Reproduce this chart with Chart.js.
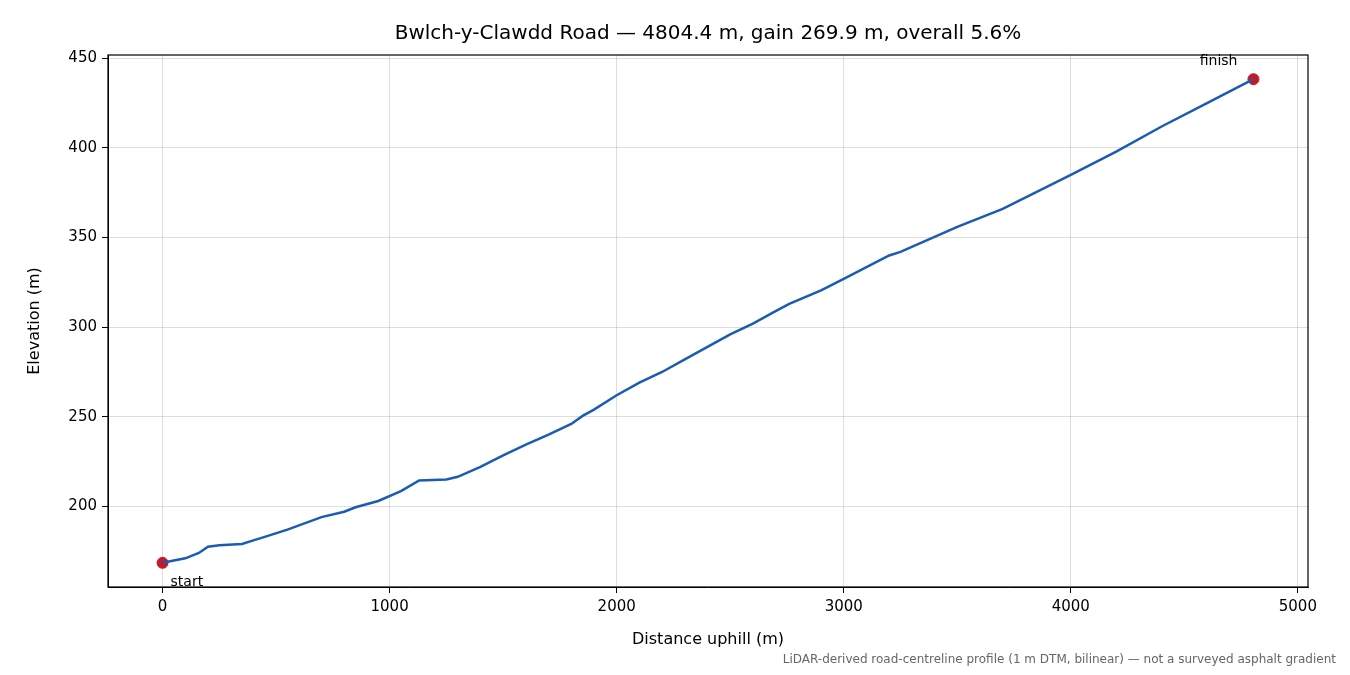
<!DOCTYPE html>
<html>
<head>
<meta charset="utf-8">
<script src="https://cdn.jsdelivr.net/npm/chart.js@4"></script>
<style>
  html, body { margin: 0; padding: 0; background: #fff; }
  #wrap { width: 1350px; height: 675px; }
</style>
</head>
<body>
<div id="wrap"><canvas id="chart" width="1350" height="675"></canvas></div>
<script>
const distance = [0, 100, 160, 200, 250, 350, 400, 450, 550, 700, 800, 850, 950, 1050, 1130, 1250, 1300,
  1400, 1500, 1600, 1700, 1800, 1850, 1900, 2000, 2100, 2200, 2300, 2400, 2500, 2600, 2700, 2760,
  2900, 3000, 3200, 3250, 3500, 3700, 4000, 4200, 4400, 4600, 4804.4];
const elevation = [168.5, 171, 174, 177.5, 178.3, 179, 181, 183, 187, 194, 197, 199.5, 203, 208.5, 214.5, 215, 216.5,
  222, 228.5, 234.5, 240, 246, 250.5, 254, 262, 269, 275, 282, 289, 296, 302, 309, 313,
  320.5, 327, 340, 342, 356, 366, 385, 398, 412, 425, 438.4];
const xTicks = [0, 1000, 2000, 3000, 4000, 5000];
const yTicks = [200, 250, 300, 350, 400, 450];
const endpoints = [
  { x: distance[0], y: elevation[0], label: "start" },
  { x: distance[distance.length - 1], y: elevation[elevation.length - 1], label: "finish" }
];

const font = "DejaVu Sans";

const extras = {
  id: "extras",
  afterDraw(chart) {
    const { ctx, chartArea: a, scales } = chart;
    ctx.save();
    ctx.strokeStyle = "#000";
    ctx.lineWidth = 1.2;
    ctx.strokeRect(a.left, a.top, a.right - a.left, a.bottom - a.top);
    ctx.fillStyle = "#000";
    ctx.font = "20px " + font;
    ctx.textAlign = "center";
    ctx.textBaseline = "middle";
    ctx.fillText("Bwlch-y-Clawdd Road \u2014 4804.4 m, gain 269.9 m, overall 5.6%", (a.left + a.right) / 2, 34);
    ctx.font = "16px " + font;
    ctx.fillText("Distance uphill (m)", (a.left + a.right) / 2, 640);
    ctx.save();
    ctx.translate(35, (a.top + a.bottom) / 2);
    ctx.rotate(-Math.PI / 2);
    ctx.fillText("Elevation (m)", 0, 0);
    ctx.restore();
    ctx.font = "14px " + font;
    const s = endpoints[0], f = endpoints[1];
    ctx.textAlign = "left";
    ctx.fillText(s.label, scales.x.getPixelForValue(s.x) + 8, scales.y.getPixelForValue(s.y) + 20);
    ctx.textAlign = "right";
    ctx.fillText(f.label, scales.x.getPixelForValue(f.x) - 16, scales.y.getPixelForValue(f.y) - 18);
    ctx.font = "12px " + font;
    ctx.fillStyle = "#666";
    ctx.fillText("LiDAR-derived road-centreline profile (1 m DTM, bilinear) \u2014 not a surveyed asphalt gradient", 1336, 660);
    ctx.restore();
  }
};

new Chart(document.getElementById("chart"), {
  type: "scatter",
  data: {
    datasets: [
      {
        data: distance.map((d, i) => ({ x: d, y: elevation[i] })),
        showLine: true,
        borderColor: "#1a5cb4",
        borderWidth: 2.5,
        pointRadius: 0,
        tension: 0
      },
      {
        data: endpoints.map(p => ({ x: p.x, y: p.y })),
        backgroundColor: "#c41a24",
        borderColor: "#c41a24",
        pointRadius: 5.5
      }
    ]
  },
  options: {
    responsive: false,
    animation: false,
    layout: { padding: { top: 55, right: 42, left: 0, bottom: 0 } },
    plugins: { legend: { display: false }, tooltip: { enabled: false } },
    scales: {
      x: {
        min: -240.2, max: 5044.6,
        afterBuildTicks: s => { s.ticks = xTicks.map(v => ({ value: v })); },
        afterFit: s => { s.height = 88; },
        grid: { color: "rgba(0,0,0,0.13)", tickColor: "#000", tickLength: 6 },
        border: { color: "#000" },
        ticks: { color: "#000", font: { family: font, size: 15 }, padding: 5, callback: v => String(v) }
      },
      y: {
        min: 155, max: 451.9,
        afterBuildTicks: s => { s.ticks = yTicks.map(v => ({ value: v })); },
        afterFit: s => { s.width = 108; },
        grid: { color: "rgba(0,0,0,0.13)", tickColor: "#000", tickLength: 6 },
        border: { color: "#000" },
        ticks: { color: "#000", font: { family: font, size: 15 }, padding: 5, callback: v => String(v) }
      }
    }
  },
  plugins: [extras]
});
</script>
</body>
</html>
